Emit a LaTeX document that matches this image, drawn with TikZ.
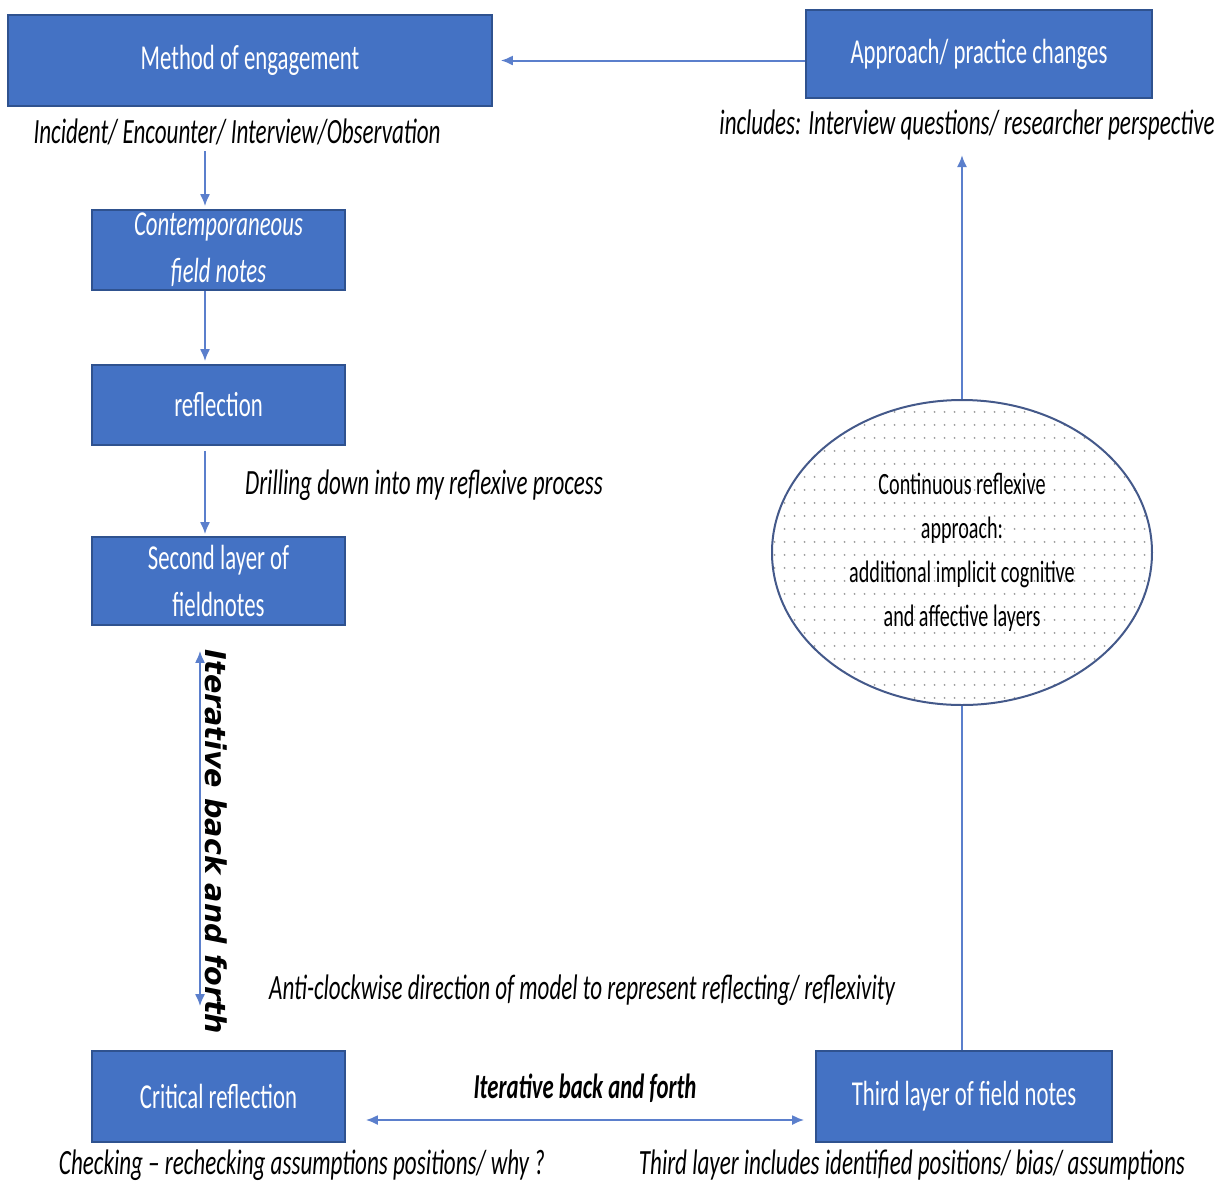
\documentclass[tikz,border=0pt]{standalone}
\usepackage{fontspec}
\setmainfont{Carlito}[FakeStretch=0.65]
\newfontfamily\wideface{DejaVu Sans}
\usetikzlibrary{arrows.meta,patterns.meta,shapes.geometric}
\definecolor{boxblue}{HTML}{4472C4}
\definecolor{boxedge}{HTML}{2F528F}
\definecolor{linkblue}{HTML}{5B7FCC}
\definecolor{ringedge}{HTML}{44598A}

\tikzdeclarepattern{
  name=griddots,
  type=uncolored,
  bounding box={(0pt,0pt) and (5pt,6.5pt)},
  tile size={(5pt,6.5pt)},
  code={\fill (2.5pt,3.25pt) circle (0.55pt);}
}

\begin{document}
\begin{tikzpicture}[x=0.5pt, y=-0.5pt, >={Latex[length=6pt,width=5pt]}]

\tikzstyle{stage}=[rectangle, fill=boxblue, draw=boxedge, line width=0.8pt, text=white, inner sep=0pt, align=center, font=\fontsize{17.5}{23.5}\selectfont]
\tikzstyle{note}=[inner sep=0pt, text=black, font=\fontsize{17.75}{21}\selectfont\itshape]
\tikzstyle{link}=[draw=linkblue, line width=1pt]

\useasboundingbox (0,0) rectangle (1223,1185);

% boxes
\draw (250,60.5)   node[stage, minimum width=242pt, minimum height=45.5pt] (engage) {Method of engagement}
      (979,54)     node[stage, minimum width=173pt, minimum height=44pt] (approach) {Approach/ practice changes}
      (218.5,250)  node[stage, minimum width=126.5pt, minimum height=40pt, font=\fontsize{17.5}{23.5}\selectfont\itshape] (contemp) {Contemporaneous\\field notes}
      (218.5,405)  node[stage, minimum width=126.5pt, minimum height=40pt] (reflect) {reflection}
      (218.5,581)  node[stage, minimum width=126.5pt, minimum height=44pt] (second) {Second layer of\\fieldnotes}
      (218.5,1096.5) node[stage, minimum width=126.5pt, minimum height=45.5pt] (critical) {Critical reflection}
      (964,1096.5) node[stage, minimum width=148pt, minimum height=45.5pt] (third) {Third layer of field notes};

\node[ellipse, draw=ringedge, line width=1pt, pattern=griddots, pattern color=gray!75, minimum width=190pt, minimum height=152.5pt, inner sep=0pt, align=center, font=\fontsize{15.5}{22}\selectfont] (loop) at (962,552.5) {Continuous reflexive\\approach:\\additional implicit cognitive\\and affective layers};

% captions
\draw (237,132)  node[note] (inc) {Incident/ Encounter/ Interview/Observation}
      (967,125)  node[note] (incl) {includes: Interview questions/ researcher perspective}
      (424,485)  node[note] (drill) {Drilling down into my reflexive process}
      (582,990)  node[note] (anti) {Anti-clockwise direction of model to represent reflecting/ reflexivity}
      (302,1165) node[note] (check) {Checking -- rechecking assumptions positions/ why ?}
      (912,1165) node[note] (thirdnote) {Third layer includes identified positions/ bias/ assumptions};

\node[inner sep=0pt, font=\fontsize{17.5}{20}\selectfont\bfseries\itshape] (acrosslabel) at (585,1088) {Iterative back and forth};
\node[inner sep=0pt, rotate=-90, font=\wideface\fontsize{14.3}{17}\selectfont\bfseries\itshape] (downlabel) at (216,842) {Iterative back and forth};

\coordinate (uptip) at (962,155);

% connectors
\draw[link, ->, shorten >=4pt] (approach.west |- engage.east) -- (engage.east);
\draw[link, ->, shorten >=1.5pt] ([xshift=-16pt, yshift=-3pt]inc.south) -- ([xshift=-6.75pt]contemp.north);
\draw[link, ->, shorten >=1.5pt] ([xshift=-6.75pt]contemp.south) -- ([xshift=-6.75pt]reflect.north);
\draw[link, ->, shorten <=2.5pt, shorten >=1pt] ([xshift=-6.75pt]reflect.south) -- ([xshift=-6.75pt]second.north);
\draw[link, <->, shorten <=12.5pt, shorten >=22pt] ([xshift=-9.25pt]second.south) -- ([xshift=-9.25pt]critical.north);
\draw[link, <->, shorten <=10pt, shorten >=5.5pt] ([yshift=-11.75pt]critical.east) -- ([yshift=-11.75pt]third.west);
\draw[link] (loop.south) -- (loop.south |- third.north);
\draw[link, ->] (loop.north) -- (uptip);

\end{tikzpicture}
\end{document}
